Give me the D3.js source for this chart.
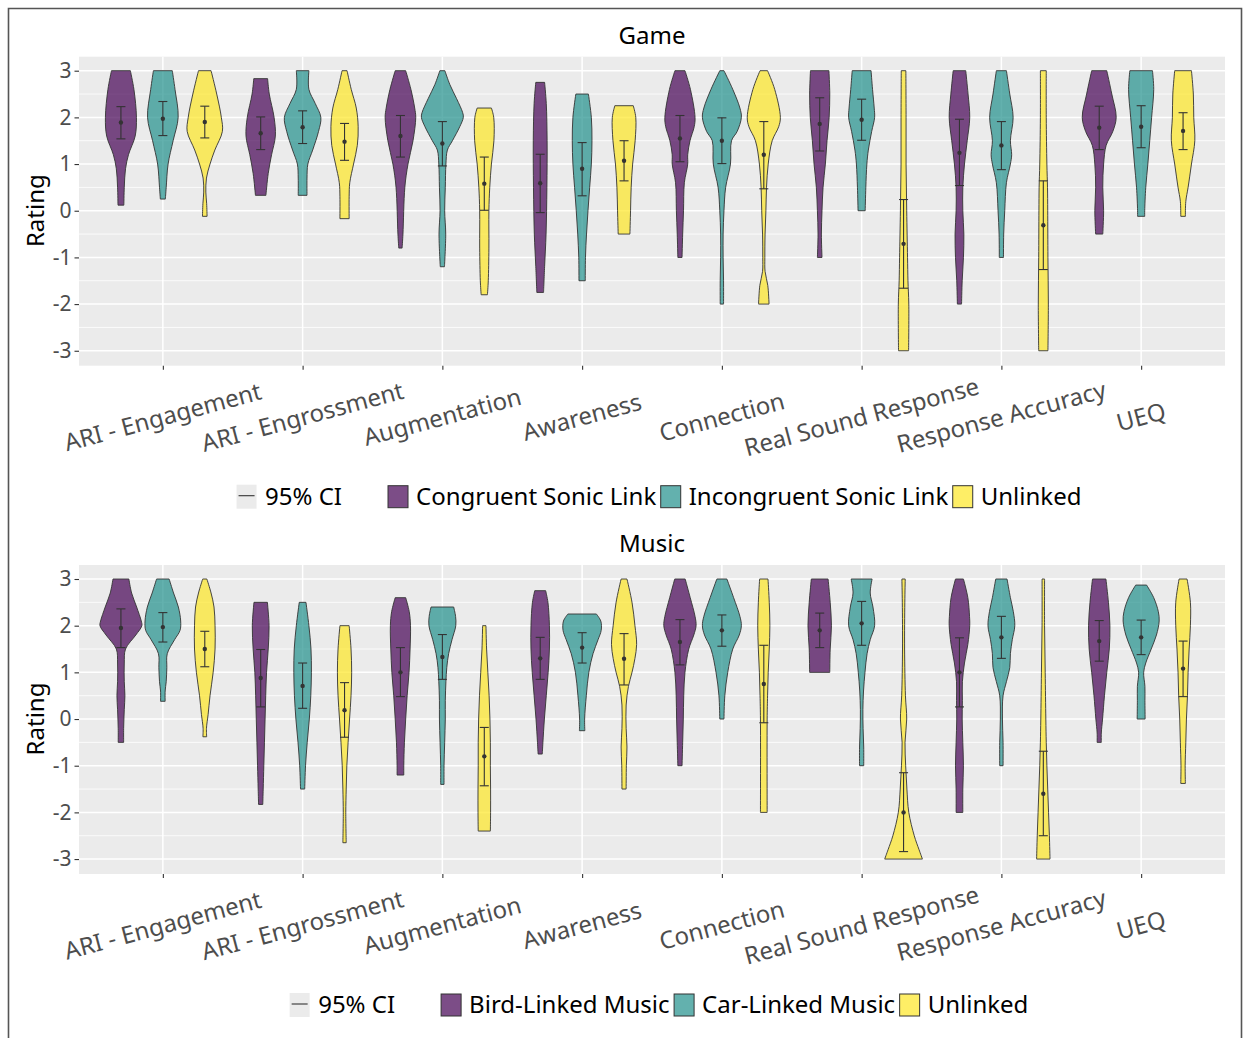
<!DOCTYPE html>
<html>
<head>
<meta charset="utf-8">
<script src="https://d3js.org/d3.v7.min.js"></script>
<style>
  body { margin: 0; background: #fff; }
  text { font-family: "Noto Sans", sans-serif; }
</style>
</head>
<body>
<svg id="chart" width="1247" height="1038"></svg>
<script>
const categories = ["ARI - Engagement", "ARI - Engrossment", "Augmentation", "Awareness",
                    "Connection", "Real Sound Response", "Response Accuracy", "UEQ"];
const gameGroups = ["Congruent Sonic Link", "Incongruent Sonic Link", "Unlinked"];
const musicGroups = ["Bird-Linked Music", "Car-Linked Music", "Unlinked"];
const groupColors = ["#440154", "#21908C", "#FDE725"];
const yTicks = [-3, -2, -1, 0, 1, 2, 3];
const yMinorTicks = [-2.5, -1.5, -0.5, 0.5, 1.5, 2.5];

// violin outlines: [rating, relative width] from top to bottom, one per category
const gameCongruentShape = [
  [[3,.45],[2.6,.62],[2,.74],[1.6,.68],[1.2,.36],[0.9,.22],[0.5,.16],[0.12,.14]],
  [[2.83,.33],[2.5,.41],[2,.64],[1.6,.70],[1.2,.52],[0.8,.36],[0.33,.25]],
  [[3,.25],[2.6,.50],[2.2,.68],[2,.73],[1.5,.60],[1,.36],[0.5,.21],[-0.5,.12],[-0.8,.08]],
  [[2.75,.21],[2.3,.29],[1.5,.33],[0.5,.32],[-0.5,.28],[-1.2,.21],[-1.75,.16]],
  [[3,.24],[2.6,.50],[2,.72],[1.8,.68],[1.5,.48],[1.2,.37],[1,.37],[0.6,.21],[0,.17],[-0.5,.13],[-1,.10]],
  [[3,.44],[2.5,.48],[2,.45],[1.5,.35],[1,.27],[0.5,.16],[0,.11],[-0.5,.08],[-1,.11]],
  [[3,.30],[2.5,.41],[2,.49],[1.5,.37],[1,.24],[0.5,.16],[0,.16],[-0.5,.21],[-1,.19],[-1.5,.13],[-2,.10]],
  [[3,.36],[2.5,.60],[2,.81],[1.7,.65],[1.4,.33],[1,.21],[0.5,.17],[0,.21],[-0.5,.17]]
];
const gameIncongruentShape = [
  [[3,.45],[2.6,.58],[2,.73],[1.5,.49],[1,.25],[0.5,.16],[0.25,.12]],
  [[3,.30],[2.6,.30],[2.3,.60],[2,.87],[1.7,.76],[1.3,.48],[1,.25],[0.7,.21],[0.33,.21]],
  [[3,.12],[2.7,.36],[2.4,.68],[2.1,.97],[2,1.0],[1.8,.83],[1.5,.48],[1.3,.24],[1,.17],[0.5,.14],[0,.11],[-0.5,.16],[-1.2,.10]],
  [[2.5,.30],[2,.44],[1.5,.47],[1,.44],[0.5,.36],[0,.28],[-0.5,.21],[-1,.16],[-1.5,.15]],
  [[3,.10],[2.6,.52],[2.2,.86],[2,.93],[1.7,.73],[1.5,.46],[1,.41],[0.5,.18],[0,.10],[-0.5,.06],[-1,.06],[-1.5,.08],[-2,.08]],
  [[3,.45],[2.6,.52],[2.2,.60],[2,.62],[1.7,.48],[1.3,.32],[1,.25],[0.5,.20],[0,.17]],
  [[3,.24],[2.5,.40],[2,.56],[1.5,.43],[1.2,.49],[1,.43],[0.6,.24],[0,.16],[-0.5,.11],[-1,.10]],
  [[3,.54],[2.6,.60],[2,.50],[1.5,.41],[1,.32],[0.5,.22],[0,.17],[-0.12,.17]]
];
const gameUnlinkedShape = [
  [[3,.30],[2.5,.57],[2,.79],[1.7,.84],[1.3,.48],[1,.25],[0.7,.08],[0.4,.05],[0.15,.09],[-0.12,.11]],
  [[3,.12],[2.6,.32],[2.2,.56],[1.8,.65],[1.4,.61],[1,.43],[0.6,.25],[0.3,.22],[-0.17,.22]],
  [[2.2,.34],[2,.45],[1.5,.46],[1,.34],[0.5,.26],[0,.22],[-0.8,.22],[-1.5,.19],[-1.8,.15]],
  [[2.25,.44],[2,.56],[1.5,.53],[1,.41],[0.5,.34],[0,.31],[-0.5,.28]],
  [[3,.18],[2.6,.52],[2,.79],[1.8,.71],[1.5,.40],[1,.21],[0.5,.13],[0,.10],[-0.5,.06],[-1,.05],[-1.3,.06],[-1.6,.19],[-2,.25]],
  [[3,.11],[2,.12],[1,.12],[0,.15],[-1,.19],[-1.5,.21],[-2,.25],[-3,.24]],
  [[3,.14],[2,.14],[1,.17],[0.5,.20],[0,.21],[-1,.22],[-2,.24],[-3,.22]],
  [[3,.40],[2.5,.49],[2,.51],[1.5,.56],[1,.40],[0.5,.24],[0.2,.13],[-0.12,.11]]
];
const musicBirdShape = [
  [[3,.38],[2.7,.51],[2.4,.75],[2.1,.97],[2,1.0],[1.8,.71],[1.5,.22],[1.2,.16],[0.8,.16],[0.5,.19],[0.2,.16],[-0.2,.13],[-0.5,.13]],
  [[2.5,.32],[2,.40],[1.5,.36],[1,.28],[0.5,.24],[0,.21],[-0.5,.18],[-1,.15],[-1.5,.12],[-1.83,.10]],
  [[2.6,.25],[2.3,.42],[2,.48],[1.5,.46],[1,.41],[0.5,.32],[0,.25],[-0.5,.19],[-1,.16],[-1.2,.16]],
  [[2.75,.26],[2.5,.37],[2,.44],[1.5,.44],[1,.38],[0.5,.29],[0,.20],[-0.5,.13],[-0.75,.10]],
  [[3,.25],[2.6,.49],[2.2,.72],[2,.77],[1.8,.66],[1.5,.42],[1,.24],[0.5,.18],[0,.16],[-0.5,.13],[-1,.10]],
  [[3,.40],[2.5,.50],[2,.56],[1.5,.50],[1,.48]],
  [[3,.19],[2.6,.40],[2.2,.48],[2,.49],[1.6,.40],[1.2,.24],[0.8,.14],[0.4,.14],[0,.13],[-0.5,.16],[-1,.19],[-1.5,.16],[-2,.16]],
  [[3,.32],[2.5,.44],[2,.51],[1.5,.48],[1,.36],[0.5,.25],[0,.16],[-0.3,.10],[-0.5,.10]]
];
const musicCarShape = [
  [[3,.30],[2.7,.51],[2.4,.74],[2.1,.85],[1.9,.82],[1.7,.56],[1.4,.21],[1.1,.19],[0.8,.16],[0.6,.11],[0.38,.11]],
  [[2.5,.16],[2,.30],[1.5,.40],[1,.42],[0.5,.39],[0,.32],[-0.5,.22],[-1,.14],[-1.5,.10]],
  [[2.4,.54],[2.2,.63],[2,.64],[1.7,.46],[1.4,.30],[1.1,.21],[0.8,.17],[0.4,.14],[0,.14],[-0.5,.11],[-1,.08],[-1.4,.08]],
  [[2.25,.68],[2.1,.89],[1.9,.91],[1.7,.76],[1.4,.52],[1,.32],[0.5,.20],[0,.12],[-0.25,.13]],
  [[3,.24],[2.6,.56],[2.2,.86],[2,.93],[1.8,.83],[1.5,.52],[1,.28],[0.5,.14],[0,.10]],
  [[3,.50],[2.7,.41],[2.4,.54],[2,.62],[1.7,.41],[1.4,.26],[1,.16],[0.6,.09],[0.2,.06],[-0.2,.07],[-0.6,.10],[-1,.10]],
  [[3,.27],[2.6,.43],[2.3,.57],[2,.64],[1.7,.52],[1.4,.43],[1.1,.40],[0.8,.24],[0.5,.08],[0,.05],[-0.5,.08],[-1,.08]],
  [[2.87,.26],[2.6,.60],[2.3,.82],[2.1,.86],[1.8,.73],[1.5,.48],[1.2,.22],[1,.12],[0.7,.18],[0.4,.18],[0,.19]]
];
const musicUnlinkedShape = [
  [[3,.10],[2.7,.30],[2.4,.44],[2,.49],[1.5,.49],[1,.40],[0.5,.25],[0.1,.16],[-0.2,.08],[-0.38,.09]],
  [[2,.22],[1.5,.31],[1,.34],[0.5,.31],[0,.24],[-0.5,.17],[-1,.11],[-1.5,.08],[-2,.06],[-2.65,.08]],
  [[2,.08],[1.5,.11],[1,.17],[0.5,.23],[0,.27],[-0.5,.29],[-1,.29],[-1.5,.30],[-2,.30],[-2.4,.29]],
  [[3,.14],[2.5,.38],[2,.52],[1.6,.60],[1.3,.52],[1,.38],[0.7,.21],[0.3,.10],[-0.2,.10],[-0.6,.14],[-1,.11],[-1.5,.10]],
  [[3,.20],[2.5,.26],[2,.29],[1.5,.26],[1,.21],[0.5,.18],[0,.16],[-2,.16]],
  [[3,.08],[2.5,.06],[1.5,.05],[0.5,.09],[0,.15],[-0.5,.07],[-1,.10],[-1.5,.16],[-2,.25],[-2.5,.51],[-2.8,.74],[-3,.90]],
  [[3,.06],[2,.06],[1,.09],[0,.12],[-0.5,.14],[-1,.17],[-1.5,.21],[-2,.25],[-2.5,.29],[-3,.32]],
  [[3,.19],[2.5,.35],[2,.35],[1.5,.29],[1,.24],[0.5,.21],[0,.16],[-0.5,.13],[-1,.10],[-1.38,.11]]
];

// [mean, lower 95% CI, upper 95% CI], one per category
const gameCongruentCI = [[1.89,1.54,2.23],[1.66,1.31,2.01],[1.60,1.15,2.04],[0.59,-0.04,1.21],
                         [1.55,1.05,2.04],[1.86,1.28,2.42],[1.24,0.54,1.96],[1.78,1.31,2.24]];
const gameIncongruentCI = [[1.97,1.61,2.34],[1.79,1.44,2.14],[1.44,0.96,1.91],[0.90,0.32,1.46],
                           [1.50,1.01,1.99],[1.95,1.51,2.39],[1.40,0.88,1.91],[1.80,1.35,2.25]];
const gameUnlinkedCI = [[1.90,1.56,2.24],[1.48,1.08,1.87],[0.58,0.01,1.15],[1.07,0.64,1.50],
                        [1.20,0.47,1.91],[-0.71,-1.66,0.24],[-0.31,-1.26,0.64],[1.71,1.31,2.10]];
const musicBirdCI = [[1.95,1.53,2.36],[0.88,0.26,1.49],[1.00,0.48,1.53],[1.30,0.85,1.75],
                     [1.65,1.16,2.13],[1.90,1.53,2.27],[1.00,0.26,1.74],[1.67,1.24,2.11]];
const musicCarCI = [[1.97,1.65,2.28],[0.71,0.23,1.20],[1.33,0.85,1.81],[1.53,1.20,1.85],
                    [1.90,1.56,2.23],[2.05,1.58,2.52],[1.75,1.30,2.20],[1.75,1.38,2.12]];
const musicUnlinkedCI = [[1.50,1.12,1.88],[0.19,-0.39,0.78],[-0.80,-1.43,-0.18],[1.29,0.73,1.83],
                         [0.75,-0.08,1.58],[-2.00,-2.84,-1.15],[-1.60,-2.50,-0.69],[1.08,0.48,1.67]];

const svg = d3.select("#chart");
const plotLeft = 79, plotRight = 1225, plotHeight = 309;

let xScale = d3.scalePoint().domain(categories).range([plotLeft, plotRight]).padding(0.6);
let dodge = d3.scaleBand().domain([0, 1, 2])
  .range([-0.45 * xScale.step(), 0.45 * xScale.step()]);
let halfWidth = d3.scaleLinear().domain([0, 1]).range([0, dodge.bandwidth() / 2]);

// outer frame
svg.append("path")
  .attr("d", "M8.5,1040 L8.5,8.5 L1241.5,8.5 L1241.5,1040")
  .attr("fill", "none").attr("stroke", "#555").attr("stroke-width", 1.6);

function drawPanel(top, title, groups, shapes, cis) {
  let yScale = d3.scaleLinear().domain([-3.32, 3.3]).range([top + plotHeight, top]);
  let g = svg.append("g");

  g.append("rect")
    .attr("x", plotLeft).attr("y", top)
    .attr("width", plotRight - plotLeft).attr("height", plotHeight)
    .attr("fill", "#EBEBEB");

  // grid
  g.selectAll(".minor").data(yMinorTicks).enter().append("line")
    .attr("x1", plotLeft).attr("x2", plotRight)
    .attr("y1", d => yScale(d)).attr("y2", d => yScale(d))
    .attr("stroke", "#fff").attr("stroke-width", 0.8);
  g.selectAll(".major").data(yTicks).enter().append("line")
    .attr("x1", plotLeft).attr("x2", plotRight)
    .attr("y1", d => yScale(d)).attr("y2", d => yScale(d))
    .attr("stroke", "#fff").attr("stroke-width", 1.5);
  g.selectAll(".vgrid").data(categories).enter().append("line")
    .attr("x1", d => xScale(d)).attr("x2", d => xScale(d))
    .attr("y1", top).attr("y2", top + plotHeight)
    .attr("stroke", "#fff").attr("stroke-width", 1.5);

  // violins
  groups.forEach(function (grp, gi) {
    categories.forEach(function (cat, ci) {
      let cx = xScale(cat) + dodge(gi) + dodge.bandwidth() / 2;
      let area = d3.area()
        .curve(d3.curveCatmullRom)
        .y(d => yScale(d[0]))
        .x0(d => cx - halfWidth(d[1]))
        .x1(d => cx + halfWidth(d[1]));
      g.append("path")
        .attr("d", area(shapes[gi][ci]) + "Z")
        .attr("fill", groupColors[gi]).attr("fill-opacity", 0.7)
        .attr("stroke", "#333").attr("stroke-width", 0.9);
    });
  });

  // 95% CI error bars with means
  groups.forEach(function (grp, gi) {
    categories.forEach(function (cat, ci) {
      let cx = xScale(cat) + dodge(gi) + dodge.bandwidth() / 2;
      let [m, lo, hi] = cis[gi][ci];
      let eb = g.append("g").attr("stroke", "#333").attr("stroke-width", 1.1);
      eb.append("line").attr("x1", cx).attr("x2", cx).attr("y1", yScale(lo)).attr("y2", yScale(hi));
      eb.append("line").attr("x1", cx - 4.5).attr("x2", cx + 4.5).attr("y1", yScale(lo)).attr("y2", yScale(lo));
      eb.append("line").attr("x1", cx - 4.5).attr("x2", cx + 4.5).attr("y1", yScale(hi)).attr("y2", yScale(hi));
      g.append("circle").attr("cx", cx).attr("cy", yScale(m)).attr("r", 2.2).attr("fill", "#333");
    });
  });

  // y axis
  let yAxis = g.append("g")
    .attr("transform", "translate(" + plotLeft + ",0)")
    .call(d3.axisLeft(yScale).tickValues(yTicks).tickSize(4.5).tickPadding(3)
      .tickFormat(d => String(d)));
  yAxis.select(".domain").remove();
  yAxis.selectAll(".tick line").attr("stroke", "#333").attr("stroke-width", 1.1);
  yAxis.selectAll(".tick text").attr("fill", "#4D4D4D").style("font-size", "21px")
    .style("font-family", "Noto Sans");

  // x axis ticks and rotated labels
  let xAxis = g.append("g")
    .attr("transform", "translate(0," + (top + plotHeight) + ")")
    .call(d3.axisBottom(xScale).tickSize(4).tickFormat(""));
  xAxis.select(".domain").remove();
  xAxis.selectAll(".tick line").attr("stroke", "#333").attr("stroke-width", 1.1);

  let labelY = top + 360.3;
  g.selectAll(".xlabel").data(categories).enter().append("text")
    .attr("x", d => xScale(d)).attr("y", labelY)
    .attr("transform", d => "rotate(-15," + xScale(d) + "," + labelY + ")")
    .attr("text-anchor", "middle").attr("dy", "0.35em")
    .attr("fill", "#4D4D4D").style("font-size", "24px")
    .text(d => d);

  // titles
  g.append("text")
    .attr("x", (plotLeft + plotRight) / 2).attr("y", top - 12.7)
    .attr("text-anchor", "middle").style("font-size", "24px").attr("fill", "#000")
    .text(title);
  g.append("text")
    .attr("transform", "translate(44," + (top + 154) + ") rotate(-90)")
    .attr("text-anchor", "middle").style("font-size", "24px").attr("fill", "#000")
    .text("Rating");

  // legend
  let lg = g.append("g");
  let x = 0;
  lg.append("rect").attr("x", x).attr("y", -12).attr("width", 20).attr("height", 24)
    .attr("fill", "#EBEBEB");
  lg.append("line").attr("x1", x + 2).attr("x2", x + 18).attr("y1", -1).attr("y2", -1)
    .attr("stroke", "#333").attr("stroke-width", 1.1);
  let t = lg.append("text").attr("x", x + 28.5).attr("y", 0).attr("dy", "0.35em")
    .style("font-size", "24px").text("95% CI");
  x += 28.5 + t.node().getComputedTextLength() + 46;

  groups.forEach(function (grp, gi) {
    lg.append("rect").attr("x", x).attr("y", -11).attr("width", 20).attr("height", 22)
      .attr("fill", groupColors[gi]).attr("fill-opacity", 0.7)
      .attr("stroke", "#333").attr("stroke-width", 1);
    let tt = lg.append("text").attr("x", x + 28).attr("y", 0).attr("dy", "0.35em")
      .style("font-size", "24px").text(grp);
    x += 28 + tt.node().getComputedTextLength() + 4.5;
  });
  let total = x - 4.5;
  lg.attr("transform", "translate(" + (659 - total / 2) + "," + (top + 440) + ")");
}

drawPanel(56.7, "Game", gameGroups,
  [gameCongruentShape, gameIncongruentShape, gameUnlinkedShape],
  [gameCongruentCI, gameIncongruentCI, gameUnlinkedCI]);
drawPanel(565, "Music", musicGroups,
  [musicBirdShape, musicCarShape, musicUnlinkedShape],
  [musicBirdCI, musicCarCI, musicUnlinkedCI]);
</script>
</body>
</html>
